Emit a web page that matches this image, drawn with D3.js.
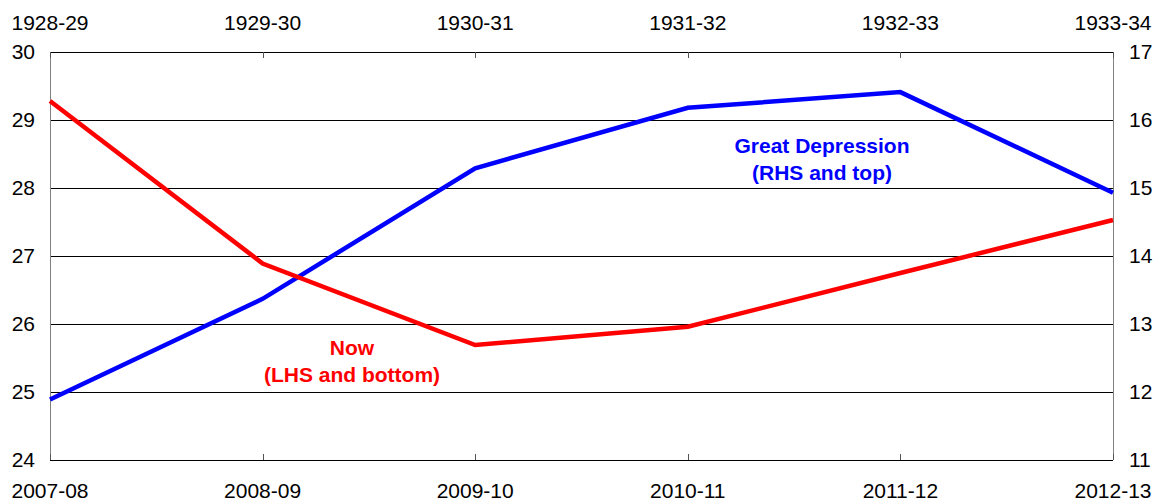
<!DOCTYPE html>
<html>
<head>
<meta charset="utf-8">
<script src="https://cdn.jsdelivr.net/npm/d3@7"></script>
<style>
  body { margin: 0; background: #fff; }
  svg { display: block; font-family: "Liberation Sans", Arial, sans-serif; }
</style>
</head>
<body>
<div id="chart"></div>
<script>
// bottom axis (Now) and top axis (Great Depression)
const nowYears = ['2007-08', '2008-09', '2009-10', '2010-11', '2011-12', '2012-13']
const depYears = ['1928-29', '1929-30', '1930-31', '1931-32', '1932-33', '1933-34']
const nowValues = [29.28, 26.89, 25.69, 25.96, 26.75, 27.53]
const depValues = [11.89, 13.37, 15.29, 16.18, 16.41, 14.93]
const leftTicks = [24, 25, 26, 27, 28, 29, 30]
const rightTicks = [11, 12, 13, 14, 15, 16, 17]

const width = 1158, height = 503
const margin = { top: 52, right: 45, bottom: 43, left: 50 }

const svg = d3.select('#chart').append('svg')
    .attr('width', width)
    .attr('height', height)

const xBottom = d3.scalePoint().domain(nowYears).range([margin.left, width - margin.right])
const xTop = d3.scalePoint().domain(depYears).range([margin.left, width - margin.right])
const yLeft = d3.scaleLinear().domain([24, 30]).range([height - margin.bottom, margin.top])
const yRight = d3.scaleLinear().domain([11, 17]).range([height - margin.bottom, margin.top])

// gridlines
svg.append('g')
    .selectAll('line')
    .data(leftTicks)
    .join('line')
    .attr('x1', margin.left)
    .attr('x2', width - margin.right)
    .attr('y1', d => Math.round(yLeft(d)) + 0.5)
    .attr('y2', d => Math.round(yLeft(d)) + 0.5)
    .attr('stroke', '#000')
    .attr('stroke-width', 1)

// side axis lines (gray)
svg.append('line')
    .attr('x1', margin.left + 0.5).attr('x2', margin.left + 0.5)
    .attr('y1', margin.top).attr('y2', height - margin.bottom)
    .attr('stroke', '#808080')
svg.append('line')
    .attr('x1', width - margin.right + 0.5).attr('x2', width - margin.right + 0.5)
    .attr('y1', margin.top).attr('y2', height - margin.bottom)
    .attr('stroke', '#808080')

// tick marks inside the box
svg.append('g').selectAll('line')
    .data(nowYears)
    .join('line')
    .attr('x1', d => Math.round(xBottom(d)) + 0.5)
    .attr('x2', d => Math.round(xBottom(d)) + 0.5)
    .attr('y1', height - margin.bottom)
    .attr('y2', height - margin.bottom - 6)
    .attr('stroke', '#555')
svg.append('g').selectAll('line')
    .data(depYears)
    .join('line')
    .attr('x1', d => Math.round(xTop(d)) + 0.5)
    .attr('x2', d => Math.round(xTop(d)) + 0.5)
    .attr('y1', margin.top)
    .attr('y2', margin.top + 6)
    .attr('stroke', '#555')

// tick labels
const fs = '21px'
svg.append('g').selectAll('text')
    .data(nowYears)
    .join('text')
    .attr('x', d => xBottom(d))
    .attr('y', 498)
    .attr('text-anchor', 'middle')
    .attr('font-size', fs)
    .text(d => d)
svg.append('g').selectAll('text')
    .data(depYears)
    .join('text')
    .attr('x', d => xTop(d))
    .attr('y', 30)
    .attr('text-anchor', 'middle')
    .attr('font-size', fs)
    .text(d => d)
svg.append('g').selectAll('text')
    .data(leftTicks)
    .join('text')
    .attr('x', 35)
    .attr('y', d => yLeft(d))
    .attr('dy', '0.35em')
    .attr('text-anchor', 'end')
    .attr('font-size', fs)
    .text(d => d)
svg.append('g').selectAll('text')
    .data(rightTicks)
    .join('text')
    .attr('x', 1129)
    .attr('y', d => yRight(d))
    .attr('dy', '0.35em')
    .attr('text-anchor', 'start')
    .attr('font-size', fs)
    .text(d => d)

// series lines
const nowLine = d3.line()
    .x((d, i) => xBottom(nowYears[i]))
    .y(d => yLeft(d))
const depLine = d3.line()
    .x((d, i) => xTop(depYears[i]))
    .y(d => yRight(d))

svg.append('path')
    .datum(depValues)
    .attr('d', depLine)
    .attr('fill', 'none')
    .attr('stroke', '#0000ff')
    .attr('stroke-width', 4.5)
svg.append('path')
    .datum(nowValues)
    .attr('d', nowLine)
    .attr('fill', 'none')
    .attr('stroke', '#ff0000')
    .attr('stroke-width', 4.5)

// annotations
const note = (lines, x, y, color) => {
    const t = svg.append('text')
        .attr('x', x).attr('y', y)
        .attr('text-anchor', 'middle')
        .attr('font-size', '21px')
        .attr('font-weight', 'bold')
        .attr('fill', color)
    lines.forEach((s, i) => t.append('tspan').attr('x', x).attr('dy', i ? 27 : 0).text(s))
}
note(['Now', '(LHS and bottom)'], 352, 355, '#ff0000')
note(['Great Depression', '(RHS and top)'], 822, 153, '#0000ff')
</script>
</body>
</html>
